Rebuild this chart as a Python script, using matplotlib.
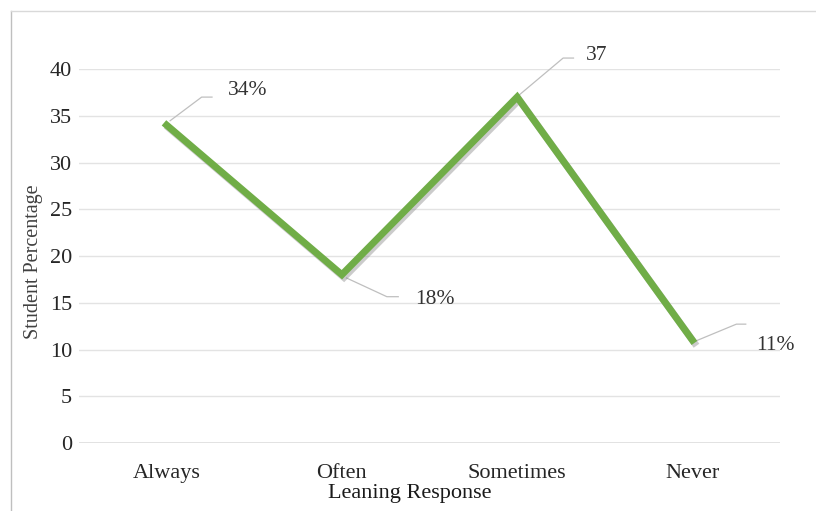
import matplotlib.pyplot as plt
import matplotlib.patheffects as pe
from matplotlib.lines import Line2D

categories = ['Always', 'Often', 'Sometimes', 'Never']
percentages = [34, 18, 37, 11]
point_labels = ['34%', '18%', '37', '11%']
y_ticks = [0, 5, 10, 15, 20, 25, 30, 35, 40]

# callout geometry in pixels relative to the data point (x right, y up):
# leader start, elbow, end of horizontal run, text left edge / centre
callouts = [
    ((3, 4), (35, 28), (46, 28), (61, 35)),
    ((4, -3), (45, -22), (57, -22), (73, -25)),
    ((2, 2), (46, 39), (57, 39), (69, 42)),
    ((3, -1), (44, 16), (54, 16), (64, -5)),
]

plt.rcParams['font.family'] = ['Liberation Serif', 'DejaVu Serif']

W, H = 816, 511
fig = plt.figure(figsize=(W / 100, H / 100), dpi=100)
ax = fig.add_axes([79 / W, 1 - 443 / H, 701 / W, (443 - 69) / H])

x = list(range(len(categories)))
ax.set_xlim(-0.5, 3.5)
ax.set_ylim(0, 40)

ax.plot(x, percentages, color='#70AD47', linewidth=5.0, solid_joinstyle='miter',
        zorder=3, clip_on=False,
        path_effects=[pe.SimpleLineShadow(offset=(1.5, -2), shadow_color='#7f7f7f', alpha=0.4),
                      pe.Normal()])

ax.set_yticks(y_ticks)
ax.set_xticks(x)
ax.set_xticklabels(categories)

for t in y_ticks:
    lw = 1.8 if t == 0 else 1.0
    col = '#d9d9d9' if t == 0 else '#e3e3e3'
    ax.axhline(t, color=col, linewidth=lw, zorder=1)

for s in ax.spines.values():
    s.set_visible(False)
ax.tick_params(axis='both', length=0, labelsize=16, colors='#262626')
ax.tick_params(axis='y', pad=5)
ax.tick_params(axis='x', pad=15)

ax.set_ylabel('Student Percentage', fontsize=14.5, color='#404040')
ax.set_xlabel('Leaning Response', fontsize=16, color='#1a1a1a')
ax.yaxis.set_label_coords((34 - 79) / 701, (443 - 262) / 374)
ax.xaxis.set_label_coords((410 - 79) / 701, -(493 - 443) / 374)
ax.xaxis.label.set_va('center')
ax.yaxis.label.set_va('center')

# callout labels with bent leader lines, placed in pixel offsets
to_data = ax.transData.inverted()
for xi, yi, txt, (p0, p1, p2, pt) in zip(x, percentages, point_labels, callouts):
    px, py = ax.transData.transform((xi, yi))
    pts = [to_data.transform((px + dx, py + dy)) for dx, dy in (p0, p1, p2)]
    ax.plot([p[0] for p in pts], [p[1] for p in pts], color='#bfbfbf',
            linewidth=0.9, zorder=2, solid_capstyle='butt', clip_on=False)
    tx, ty = to_data.transform((px + pt[0], py + pt[1]))
    ax.text(tx, ty, txt, fontsize=15.5, color='#333333', va='center', ha='left')

# outer chart frame (left and top edges)
fig.add_artist(Line2D([11 / W, 11 / W], [0, 1 - 11 / H], color='#bfbfbf', linewidth=1.0))
fig.add_artist(Line2D([11 / W, 1], [1 - 11 / H, 1 - 11 / H], color='#d9d9d9', linewidth=1.0))

fig.savefig('out.png', dpi=100, facecolor='white')
